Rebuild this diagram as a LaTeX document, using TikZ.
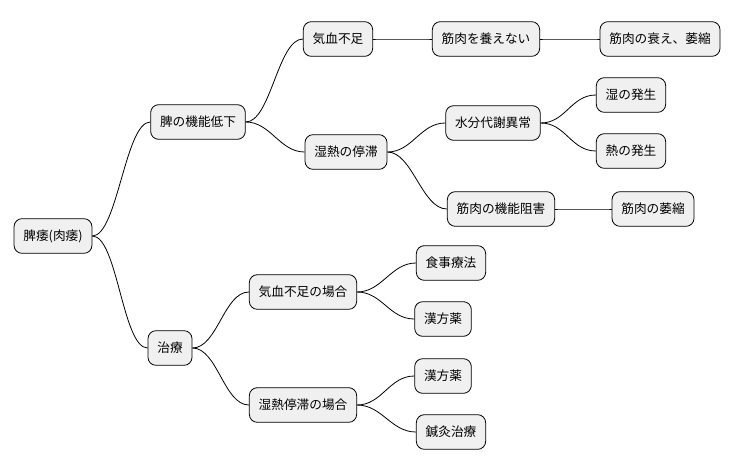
\documentclass[tikz,border=0pt]{standalone}
\usepackage{fontspec}
\setmainfont{Noto Sans CJK JP}
\begin{document}
\begin{tikzpicture}[x=0.75pt,y=-0.75pt,
  n/.style={draw=black,fill=gray!12,rounded corners=6pt,minimum height=26pt,inner xsep=7pt,font=\fontsize{9.5pt}{11pt}\selectfont,line width=0.6pt},
  e/.style={line width=0.6pt}]
\useasboundingbox (0,0) rectangle (737,471);
\node[n] (root) at (53,236) {脾痿(肉痿)};
\node[n] (a) at (198,122) {脾の機能低下};
\node[n] (b) at (170,348) {治療};
\node[n] (a1) at (338,39) {気血不足};
\node[n] (a2) at (346,152) {湿熱の停滞};
\node[n] (a11) at (486,39) {筋肉を養えない};
\node[n] (a111) at (660,39) {筋肉の衰え、萎縮};
\node[n] (a21) at (493,123) {水分代謝異常};
\node[n] (a211) at (631,95) {湿の発生};
\node[n] (a212) at (631,151) {熱の発生};
\node[n] (a22) at (501,209) {筋肉の機能阻害};
\node[n] (a221) at (653,209) {筋肉の萎縮};
\node[n] (b1) at (303,292) {気血不足の場合};
\node[n] (b2) at (303,405) {湿熱停滞の場合};
\node[n] (b11) at (451,263) {食事療法};
\node[n] (b12) at (443,319) {漢方薬};
\node[n] (b21) at (443,376) {漢方薬};
\node[n] (b22) at (451,432) {鍼灸治療};
\foreach \p/\c in {root/a,root/b,a/a1,a/a2,a1/a11,a11/a111,a2/a21,a2/a22,a21/a211,a21/a212,a22/a221,b/b1,b/b2,b1/b11,b1/b12,b2/b21,b2/b22}
  \draw[e] (\p.east) .. controls +(25,0) and +(-25,0) .. (\c.west);
\end{tikzpicture}
\end{document}
